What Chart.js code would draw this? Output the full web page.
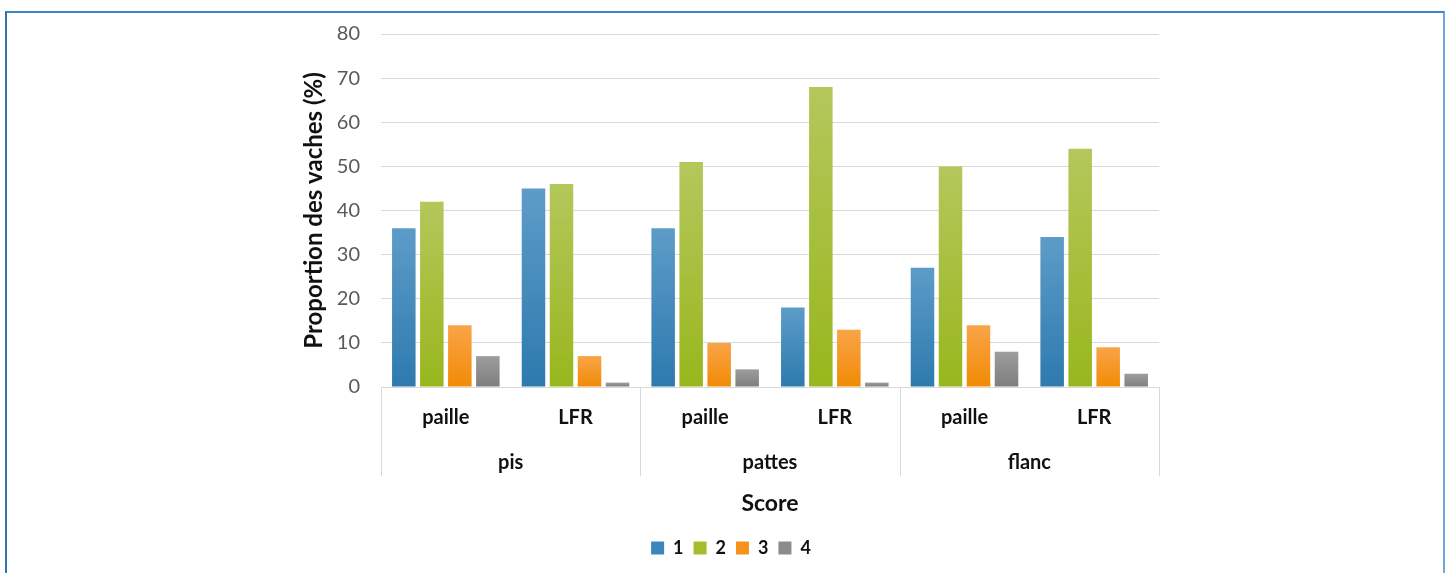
<!DOCTYPE html>
<html>
<head>
<meta charset="utf-8">
<script src="https://cdn.jsdelivr.net/npm/chart.js@4.4.1/dist/chart.umd.min.js"></script>
<style>
  html, body { margin: 0; padding: 0; background: #fff; }
  #wrap { position: relative; width: 1448px; height: 573px; overflow: hidden; }
  #frame {
    position: absolute; left: 5px; top: 11px; width: 1436px; height: 600px;
    border-top: 2px solid #3f84c4; border-left: 2px solid #2e75b6; border-right: 2px solid #6fa8dc;
  }
  canvas { position: absolute; left: 0; top: 0; }
</style>
</head>
<body>
<div id="wrap">
  <div id="frame"></div>
  <canvas id="c" width="1448" height="573"></canvas>
</div>
<script>
// Litter type per housing group, and body zone groups
const categories = ['paille', 'LFR', 'paille', 'LFR', 'paille', 'LFR'];
const groups = ['pis', 'pattes', 'flanc'];

// Proportion of cows (%) per cleanliness score
const score1 = [36, 45, 36, 18, 27, 34];
const score2 = [42, 46, 51, 68, 50, 54];
const score3 = [14, 7, 10, 13, 14, 9];
const score4 = [7, 1, 4, 1, 8, 3];

const seriesNames = ['1', '2', '3', '4'];
const seriesData = [score1, score2, score3, score4];

// gradient stops (top, bottom) and flat legend colour per score
const shades = [
  { top: '#5d9cc8', bottom: '#2d7aae', flat: '#3a86bd' },
  { top: '#b4c75c', bottom: '#98b71c', flat: '#a3bd2e' },
  { top: '#f9a448', bottom: '#f18b05', flat: '#f5931c' },
  { top: '#9d9d9d', bottom: '#7e7e7e', flat: '#8b8b8b' }
];

const FONT = 'Lato, "Open Sans", sans-serif';

function barGradient(idx) {
  return (ctx) => {
    const chart = ctx.chart;
    const y = chart.scales && chart.scales.y;
    if (!y || ctx.raw === undefined) return shades[idx].flat;
    const top = y.getPixelForValue(ctx.raw);
    const base = y.getPixelForValue(0);
    if (!isFinite(top) || !isFinite(base) || base - top < 1) return shades[idx].bottom;
    const g = chart.ctx.createLinearGradient(0, top, 0, base);
    g.addColorStop(0, shades[idx].top);
    g.addColorStop(1, shades[idx].bottom);
    return g;
  };
}

// vertical dividers between the body-zone groups under the axis
const groupDividers = {
  id: 'groupDividers',
  afterDraw(chart) {
    const xs = chart.scales.x, x2 = chart.scales.x2;
    const per = categories.length / groups.length;
    const w = (xs.right - xs.left) / categories.length;
    const c = chart.ctx;
    c.save();
    c.strokeStyle = '#d9d9d9';
    c.lineWidth = 1;
    for (let g = 0; g <= groups.length; g++) {
      const px = Math.round(xs.left + g * per * w) + 0.5;
      c.beginPath();
      c.moveTo(px, xs.top);
      c.lineTo(px, x2.top + 35);
      c.stroke();
    }
    c.restore();
  }
};

new Chart(document.getElementById('c'), {
  type: 'bar',
  data: {
    labels: categories,
    datasets: seriesData.map((d, i) => ({
      label: seriesNames[i],
      data: d,
      backgroundColor: barGradient(i),
      borderWidth: 0,
      categoryPercentage: 0.864,
      barPercentage: 0.84,
      xAxisID: 'x',
      yAxisID: 'y'
    }))
  },
  options: {
    responsive: false,
    animation: false,
    devicePixelRatio: 1,
    layout: { padding: { left: 14, right: 0, top: 34, bottom: 6 } },
    plugins: {
      tooltip: { enabled: false },
      legend: {
        position: 'bottom',
        labels: {
          boxWidth: 13,
          boxHeight: 13,
          padding: 10,
          color: '#111',
          font: { family: FONT, size: 18, weight: 'bold' },
          generateLabels: () => seriesNames.map((n, i) => ({
            text: n,
            fillStyle: shades[i].flat,
            strokeStyle: shades[i].flat,
            lineWidth: 0,
            hidden: false,
            datasetIndex: i,
            fontColor: '#111'
          }))
        }
      }
    },
    scales: {
      y: {
        position: 'left',
        min: 0,
        max: 80,
        ticks: {
          stepSize: 10,
          padding: 21,
          color: '#595959',
          font: { family: FONT, size: 20 }
        },
        grid: { color: '#d9d9d9', lineWidth: 1, drawTicks: false },
        border: { display: false },
        title: {
          display: true,
          text: 'Proportion des vaches (%)',
          color: '#111',
          padding: { top: 286, bottom: 0 },
          font: { family: FONT, size: 24, weight: 'bold' }
        },
        afterFit(s) { s.width = 367; }
      },
      yR: {
        type: 'linear',
        position: 'right',
        display: true,
        grid: { display: false },
        border: { display: false },
        ticks: { display: false },
        afterFit(s) { s.width = 289; }
      },
      x: {
        type: 'category',
        position: 'bottom',
        weight: 0,
        offset: true,
        grid: { display: false },
        border: { display: false },
        ticks: {
          padding: 11,
          color: '#111',
          maxRotation: 0,
          autoSkip: false,
          font: { family: FONT, size: 20, weight: 'bold' }
        },
        afterFit(s) { s.height = 54; }
      },
      x2: {
        type: 'category',
        position: 'bottom',
        weight: 1,
        labels: groups,
        offset: true,
        grid: { display: false },
        border: { display: false },
        ticks: {
          padding: 2,
          color: '#111',
          maxRotation: 0,
          autoSkip: false,
          font: { family: FONT, size: 20, weight: 'bold' }
        },
        title: {
          display: true,
          text: 'Score',
          color: '#111',
          padding: { top: 0, bottom: 12 },
          font: { family: FONT, size: 23, weight: 'bold' }
        },
        afterFit(s) { s.height = 88; }
      }
    }
  },
  plugins: [groupDividers]
});
</script>
</body>
</html>
